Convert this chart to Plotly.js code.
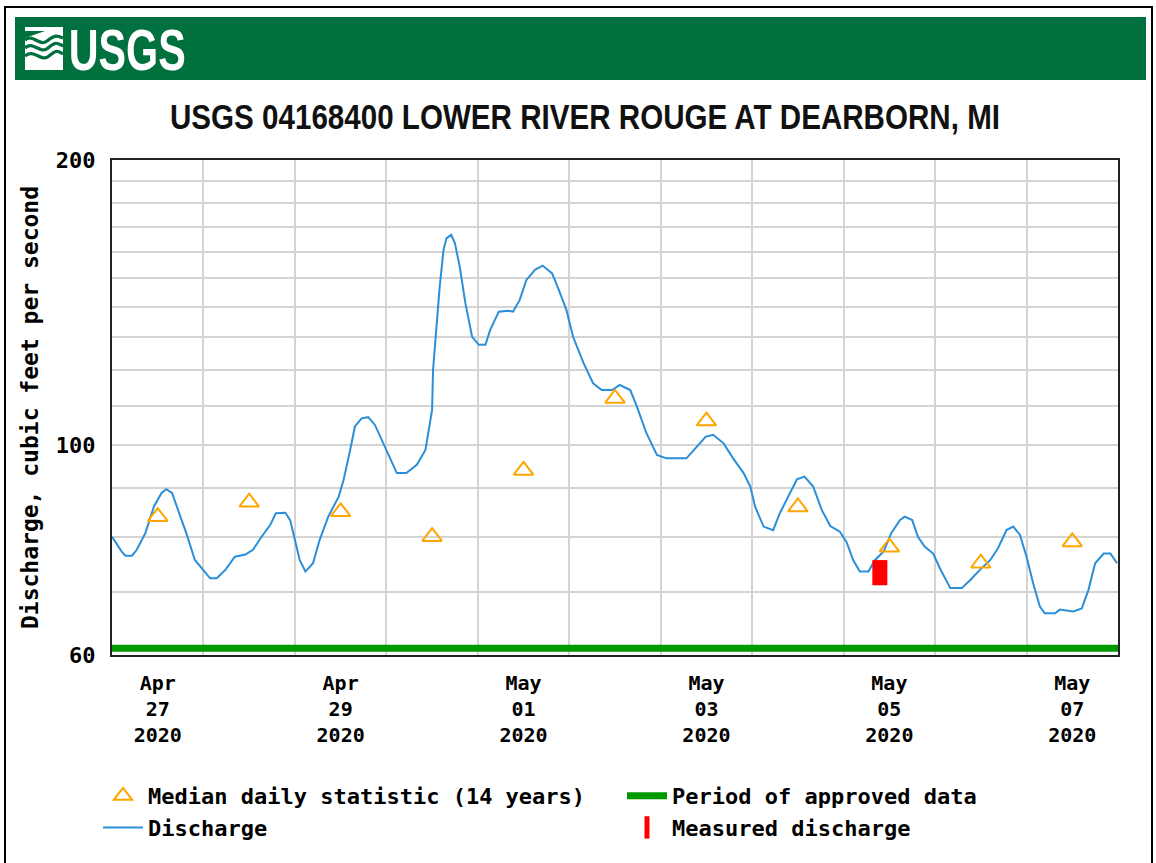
<!DOCTYPE html>
<html>
<head>
<meta charset="utf-8">
<script src="https://cdn.plot.ly/plotly-3.0.1.min.js"></script>
<style>
  html, body { margin: 0; padding: 0; background: #ffffff; }
  #chart { width: 1156px; height: 863px; }
</style>
</head>
<body>
<div id="chart"></div>
<script>
// ---------------- Data ----------------
const dischargeTimes = [
  '2020-04-27 00:00','2020-04-27 02:30','2020-04-27 03:30','2020-04-27 05:15','2020-04-27 06:30',
  '2020-04-27 08:45','2020-04-27 11:00','2020-04-27 13:00','2020-04-27 14:15','2020-04-27 15:45',
  '2020-04-27 17:30','2020-04-27 19:30','2020-04-27 21:45','2020-04-28 00:30','2020-04-28 01:45',
  '2020-04-28 03:30','2020-04-28 05:45','2020-04-28 08:15','2020-04-28 11:00','2020-04-28 13:00',
  '2020-04-28 15:15','2020-04-28 17:30','2020-04-28 19:00','2020-04-28 21:30','2020-04-28 22:45',
  '2020-04-29 00:00','2020-04-29 01:15','2020-04-29 02:45','2020-04-29 04:45','2020-04-29 06:30',
  '2020-04-29 08:45','2020-04-29 11:30','2020-04-29 12:45','2020-04-29 14:30','2020-04-29 15:45',
  '2020-04-29 17:30','2020-04-29 19:15','2020-04-29 21:00','2020-04-29 23:15','2020-04-30 01:30',
  '2020-04-30 02:45','2020-04-30 05:15','2020-04-30 08:00','2020-04-30 10:15','2020-04-30 11:00',
  '2020-04-30 12:00','2020-04-30 12:15','2020-04-30 13:15','2020-04-30 14:00','2020-04-30 15:00',
  '2020-04-30 15:45','2020-04-30 17:00','2020-04-30 18:00','2020-04-30 19:15','2020-04-30 20:45',
  '2020-04-30 22:30','2020-05-01 00:15','2020-05-01 02:00','2020-05-01 03:15','2020-05-01 05:30',
  '2020-05-01 08:00','2020-05-01 09:15','2020-05-01 11:00','2020-05-01 12:45','2020-05-01 15:00',
  '2020-05-01 17:00','2020-05-01 19:30','2020-05-01 21:15','2020-05-01 23:15','2020-05-02 01:00',
  '2020-05-02 03:45','2020-05-02 06:15','2020-05-02 08:30','2020-05-02 11:15','2020-05-02 13:15',
  '2020-05-02 16:00','2020-05-02 17:45','2020-05-02 20:15','2020-05-02 23:00','2020-05-03 01:30',
  '2020-05-03 06:45','2020-05-03 09:30','2020-05-03 11:45','2020-05-03 13:45','2020-05-03 16:30',
  '2020-05-03 19:00','2020-05-03 21:45','2020-05-03 23:30','2020-05-04 00:45','2020-05-04 03:00',
  '2020-05-04 05:30','2020-05-04 07:15','2020-05-04 10:00','2020-05-04 11:45','2020-05-04 13:45',
  '2020-05-04 16:00','2020-05-04 18:15','2020-05-04 20:30','2020-05-04 23:00','2020-05-05 00:45',
  '2020-05-05 02:30','2020-05-05 04:15','2020-05-05 06:30','2020-05-05 08:15','2020-05-05 10:30',
  '2020-05-05 12:30','2020-05-05 14:45','2020-05-05 16:00','2020-05-05 18:00','2020-05-05 19:30',
  '2020-05-05 21:15','2020-05-05 23:30','2020-05-06 01:15','2020-05-06 04:00','2020-05-06 07:00',
  '2020-05-06 09:15','2020-05-06 11:45','2020-05-06 14:30','2020-05-06 16:30','2020-05-06 18:45',
  '2020-05-06 20:30','2020-05-06 22:15','2020-05-07 00:00','2020-05-07 01:45','2020-05-07 03:30',
  '2020-05-07 04:45','2020-05-07 07:30','2020-05-07 08:45','2020-05-07 12:15','2020-05-07 14:30',
  '2020-05-07 16:15','2020-05-07 18:00','2020-05-07 20:15','2020-05-07 22:00','2020-05-07 23:45'
];
const dischargeValues = [
  80.0, 77.2, 76.4, 76.4, 77.5,
  80.7, 86.1, 89.0, 89.8, 89.0,
  85.0, 80.7, 75.6, 73.2, 72.3,
  72.3, 73.8, 76.2, 76.6, 77.5,
  80.0, 82.3, 84.7, 84.8, 83.3,
  79.4, 75.6, 73.5, 75.0, 79.4,
  84.0, 88.2, 91.8, 98.8, 104.6,
  106.7, 107.0, 105.0, 100.4, 95.6,
  93.4, 93.4, 95.3, 98.8, 102.9,
  108.9, 120.0, 135.5, 147.0, 160.7,
  165.3, 166.7, 163.3, 154.3, 141.1,
  130.1, 127.6, 127.6, 132.3, 138.3,
  138.6, 138.3, 142.3, 149.4, 153.1,
  154.7, 151.8, 145.8, 138.9, 130.1,
  122.0, 116.2, 114.3, 114.3, 115.7,
  114.3, 109.8, 102.9, 97.6, 96.8,
  96.8, 99.6, 102.0, 102.5, 100.4,
  96.8, 93.4, 90.4, 86.1, 82.0,
  81.3, 84.7, 89.3, 92.0, 92.6,
  90.4, 85.4, 82.1, 81.0, 79.0,
  75.6, 73.5, 73.5, 75.6, 77.2,
  80.7, 83.3, 84.0, 83.3, 80.0,
  78.1, 76.8, 74.1, 70.6, 70.6,
  72.0, 73.8, 75.6, 77.8, 81.3,
  82.0, 80.4, 76.2, 71.4, 67.5,
  66.4, 66.4, 67.0, 66.7, 67.2,
  70.3, 75.0, 76.8, 76.8, 75.0
];

const medianDates = [
  '2020-04-27 12:00','2020-04-28 12:00','2020-04-29 12:00','2020-04-30 12:00',
  '2020-05-01 12:00','2020-05-02 12:00','2020-05-03 12:00','2020-05-04 12:00',
  '2020-05-05 12:00','2020-05-06 12:00','2020-05-07 12:00'
];
const medianValues = [84, 87, 85, 80, 94, 112, 106, 86, 78, 75, 79];

const measuredTimes = ['2020-05-05 09:30'];
const measuredValues = [73.3];

const approvedPeriod = ['2020-04-27 00:00', '2020-05-08 00:00'];

const xRange = ['2020-04-27 00:00', '2020-05-08 00:00'];
const dayGridDates = [
  '2020-04-28','2020-04-29','2020-04-30','2020-05-01','2020-05-02',
  '2020-05-03','2020-05-04','2020-05-05','2020-05-06','2020-05-07'
];
const xTickDates = [
  '2020-04-27 12:00','2020-04-29 12:00','2020-05-01 12:00',
  '2020-05-03 12:00','2020-05-05 12:00','2020-05-07 12:00'
];
const xTickLabels = [
  'Apr<br>27<br>2020','Apr<br>29<br>2020','May<br>01<br>2020',
  'May<br>03<br>2020','May<br>05<br>2020','May<br>07<br>2020'
];
const yTickValues = [60, 70, 80, 90, 100, 110, 120, 130, 140, 150, 160, 170, 180, 190, 200];
const yTickLabels = ['60', '', '', '', '100', '', '', '', '', '', '', '', '', '', '200'];

// ---------------- Styles ----------------
const MONO = 'DejaVu Sans Mono, Liberation Mono, monospace';
const SANS = 'Liberation Sans, Arial, sans-serif';
const GRID = '#d4d4d4';
const USGS_GREEN = '#00703F';

// paper-coordinate helpers for decorations (plot area: x 112..1118, y 160..655)
const px = v => (v - 112) / 1006;
const py = v => (655 - v) / 495;

const emblem = "data:image/svg+xml;utf8," + encodeURIComponent(
  "<svg xmlns='http://www.w3.org/2000/svg' width='38' height='43' viewBox='0 0 38 43'>" +
  "<rect x='0' y='0' width='38' height='43' fill='white'/>" +
  "<path d='M0 13 C8 6 14 20 22 14 S32 8 38 11' stroke='" + USGS_GREEN + "' stroke-width='3.2' fill='none'/>" +
  "<path d='M0 21 C8 13 15 28 23 21 S32 16 38 19' stroke='" + USGS_GREEN + "' stroke-width='3.2' fill='none'/>" +
  "<path d='M0 29 C9 21 16 36 24 29 S33 24 38 27' stroke='" + USGS_GREEN + "' stroke-width='3.2' fill='none'/>" +
  "<path d='M0 4 L20 4 L0 11 Z' fill='" + USGS_GREEN + "'/>" +
  "</svg>");

const traces = [
  {
    name: 'Period of approved data',
    x: approvedPeriod,
    y: [61, 61],
    type: 'scatter',
    mode: 'lines',
    line: { color: '#009900', width: 7 },
    legendrank: 2,
    hoverinfo: 'skip'
  },
  {
    name: 'Discharge',
    x: dischargeTimes,
    y: dischargeValues,
    type: 'scatter',
    mode: 'lines',
    line: { color: '#2A8FD8', width: 2 },
    legendrank: 3
  },
  {
    name: 'Median daily statistic (14 years)',
    x: medianDates,
    y: medianValues,
    type: 'scatter',
    mode: 'markers',
    marker: { symbol: 'triangle-up-open', size: 17, color: '#FFA500', line: { width: 2, color: '#FFA500' } },
    legendrank: 1
  },
  {
    name: 'Measured discharge',
    x: measuredTimes,
    y: measuredValues,
    type: 'scatter',
    mode: 'markers',
    marker: { symbol: 'line-ns', size: 18, color: '#FF0000', line: { width: 15, color: '#FF0000' } },
    legendrank: 4
  }
];

const layout = {
  width: 1156,
  height: 863,
  autosize: false,
  margin: { l: 112, r: 38, t: 160, b: 208, pad: 0 },
  paper_bgcolor: '#ffffff',
  plot_bgcolor: '#ffffff',
  showlegend: true,
  title: {
    text: 'USGS 04168400 LOWER RIVER ROUGE AT DEARBORN, MI',
    font: { family: SANS, size: 35, color: '#111111', weight: 'bold' },
    x: 585 / 1156, xref: 'container', xanchor: 'center',
    y: 1 - 117 / 863, yref: 'container', yanchor: 'middle'
  },
  xaxis: {
    type: 'date',
    range: xRange,
    tickmode: 'array',
    tickvals: xTickDates,
    ticktext: xTickLabels,
    showgrid: false,
    ticks: '',
    ticklabelstandoff: 9,
    tickfont: { family: MONO, size: 20, color: '#000000', weight: 'bold' },
    showline: true, mirror: true, linecolor: '#222222', linewidth: 2,
    zeroline: false,
    minor: { tickmode: 'array', tickvals: dayGridDates, showgrid: true, gridcolor: GRID, gridwidth: 2, ticks: '' },
    fixedrange: true
  },
  yaxis: {
    type: 'log',
    range: [Math.log10(60), Math.log10(200)],
    tickmode: 'array',
    tickvals: yTickValues,
    ticktext: yTickLabels,
    showgrid: true, gridcolor: GRID, gridwidth: 2,
    ticks: '',
    ticklabelstandoff: 10,
    tickfont: { family: MONO, size: 22, color: '#000000', weight: 'bold' },
    showline: true, mirror: true, linecolor: '#222222', linewidth: 2,
    zeroline: false,
    title: { text: 'Discharge, cubic feet per second', font: { family: MONO, size: 23, color: '#000000', weight: 'bold' }, standoff: 11 },
    fixedrange: true
  },
  legend: {
    orientation: 'h',
    x: px(98), xanchor: 'left',
    y: py(775), yanchor: 'top',
    font: { family: MONO, size: 22, color: '#000000', weight: 'bold' },
    itemwidth: 40,
    entrywidth: 469, entrywidthmode: 'pixels',
    bgcolor: 'rgba(0,0,0,0)',
    traceorder: 'normal',
    itemclick: false, itemdoubleclick: false
  },
  shapes: [
    { type: 'rect', xref: 'paper', yref: 'paper', x0: px(5), x1: px(1152), y0: py(875), y1: py(7),
      line: { color: '#000000', width: 2 }, fillcolor: 'rgba(0,0,0,0)', layer: 'below' },
    { type: 'rect', xref: 'paper', yref: 'paper', x0: px(15), x1: px(1146), y0: py(80), y1: py(17),
      line: { width: 0 }, fillcolor: USGS_GREEN, layer: 'below' }
  ],
  images: [
    { source: emblem, xref: 'paper', yref: 'paper', x: px(25), y: py(27), sizex: 38 / 1006, sizey: 43 / 495,
      xanchor: 'left', yanchor: 'top', sizing: 'stretch', layer: 'above' }
  ],
  annotations: [
    { text: 'USGS', xref: 'paper', yref: 'paper', x: px(126.5), y: py(49), xanchor: 'center', yanchor: 'middle',
      showarrow: false, font: { family: SANS, size: 58, color: '#ffffff', weight: 'bold' } }
  ]
};

// Condense the narrow-typeface texts (title, logo word) to the reference widths.
function condense(sel, width) {
  const el = document.querySelector(sel);
  if (el) {
    el.setAttribute('textLength', width);
    el.setAttribute('lengthAdjust', 'spacingAndGlyphs');
  }
}

Plotly.newPlot('chart', traces, layout, { displayModeBar: false, staticPlot: true }).then(() => {
  condense('.gtitle', 830);
  condense('.annotation-text', 117);
});
</script>
</body>
</html>
